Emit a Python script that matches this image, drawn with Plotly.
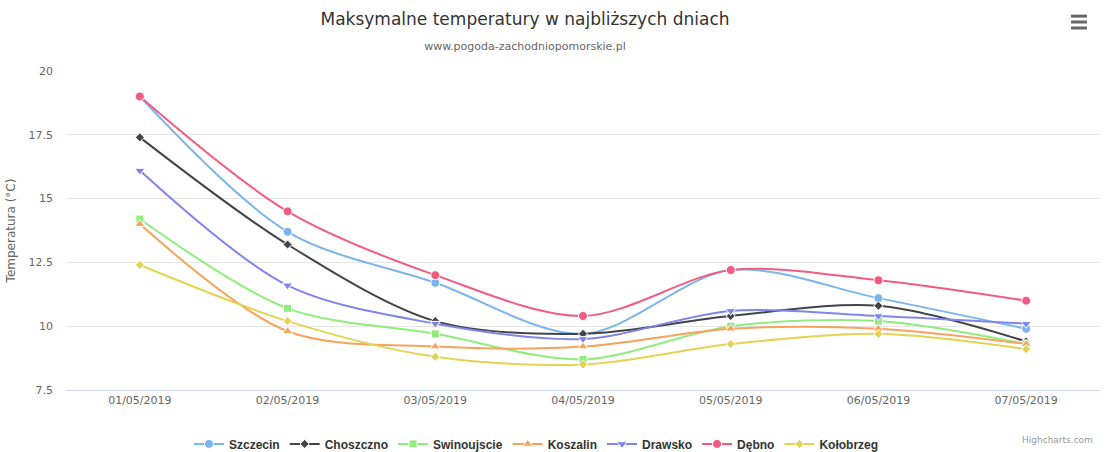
import plotly.graph_objects as go

days = ["01/05/2019", "02/05/2019", "03/05/2019", "04/05/2019",
        "05/05/2019", "06/05/2019", "07/05/2019"]

szczecin = [19.0, 13.7, 11.7, 9.7, 12.2, 11.1, 9.9]
choszczno = [17.4, 13.2, 10.2, 9.7, 10.4, 10.8, 9.4]
swinoujscie = [14.2, 10.7, 9.7, 8.7, 10.0, 10.2, 9.3]
koszalin = [14.0, 9.8, 9.2, 9.2, 9.9, 9.9, 9.3]
drawsko = [16.1, 11.6, 10.1, 9.5, 10.6, 10.4, 10.1]
debno = [19.0, 14.5, 12.0, 10.4, 12.2, 11.8, 11.0]
kolobrzeg = [12.4, 10.2, 8.8, 8.5, 9.3, 9.7, 9.1]

y_ticks = [7.5, 10, 12.5, 15, 17.5, 20]

series = [
    ("Szczecin", szczecin, "#7cb5ec", "circle", 9),
    ("Choszczno", choszczno, "#434348", "diamond", 7),
    ("Swinoujscie", swinoujscie, "#90ed7d", "square", 8),
    ("Koszalin", koszalin, "#f7a35c", "triangle-up", 9),
    ("Drawsko", drawsko, "#8085e9", "triangle-down", 9),
    ("Dębno", debno, "#f15c80", "circle", 9),
    ("Kołobrzeg", kolobrzeg, "#e4d354", "diamond", 7),
]

fig = go.Figure()
for name, vals, color, symbol, msize in series:
    fig.add_trace(go.Scatter(
        x=days, y=vals, name=name, mode="lines+markers",
        line=dict(color=color, width=2, shape="spline", smoothing=0.9),
        marker=dict(symbol=symbol, size=msize, color=color,
                    line=dict(color="white", width=1)),
    ))

font = "DejaVu Sans, Verdana, Arial, sans-serif"

# hamburger menu icon (export button)
for yy in [1.172, 1.1536, 1.1348]:
    fig.add_shape(type="line", xref="paper", yref="paper",
                  x0=0.972, x1=0.9874, y0=yy, y1=yy,
                  line=dict(color="#666666", width=3))

fig.update_layout(
    width=1106, height=452,
    margin=dict(l=66, r=6, t=71, b=62, autoexpand=False),
    paper_bgcolor="white", plot_bgcolor="white",
    font=dict(family=font, color="#666666", size=11),
    title=dict(
        text="Maksymalne temperatury w najbliższych dniach",
        x=0.4747, xref="container", xanchor="center",
        y=0.958, yref="container", yanchor="middle",
        font=dict(size=17, color="#333333", family=font),
        subtitle=dict(text="www.pogoda-zachodniopomorskie.pl",
                      font=dict(size=11, color="#666666", family=font)),
    ),
    xaxis=dict(
        type="category", range=[-0.5, 6.5], automargin=False,
        showgrid=False, showline=True, linecolor="#ccd6eb", linewidth=1,
        ticks="", tickfont=dict(size=11, color="#666666"),
        fixedrange=True,
    ),
    yaxis=dict(
        range=[7.5, 20], tickvals=y_ticks, automargin=False,
        ticktext=["7.5", "10", "12.5", "15", "17.5", "20"],
        showgrid=True, gridcolor="#e6e6e6", gridwidth=1,
        zeroline=False, showline=False, ticks="",
        ticklabelstandoff=12,
        title=dict(text="Temperatura (°C)", standoff=10,
                   font=dict(size=12, color="#666666")),
        tickfont=dict(size=11, color="#666666"),
    ),
    legend=dict(
        orientation="h", x=0.455, xanchor="center",
        y=-0.169, yref="paper", yanchor="middle",
        font=dict(size=12, color="#333333",
                  family="Liberation Sans, Arial, sans-serif", weight="bold"),
        itemwidth=30, tracegroupgap=0,
    ),
    annotations=[dict(
        text="Highcharts.com", xref="paper", yref="paper",
        x=0.995, y=-0.157, xanchor="right", yanchor="middle",
        showarrow=False, font=dict(size=9, color="#999999"),
    )],
)

fig.write_html("out.html", config={"displayModeBar": False},
               post_script="document.body.style.margin='0px';")
